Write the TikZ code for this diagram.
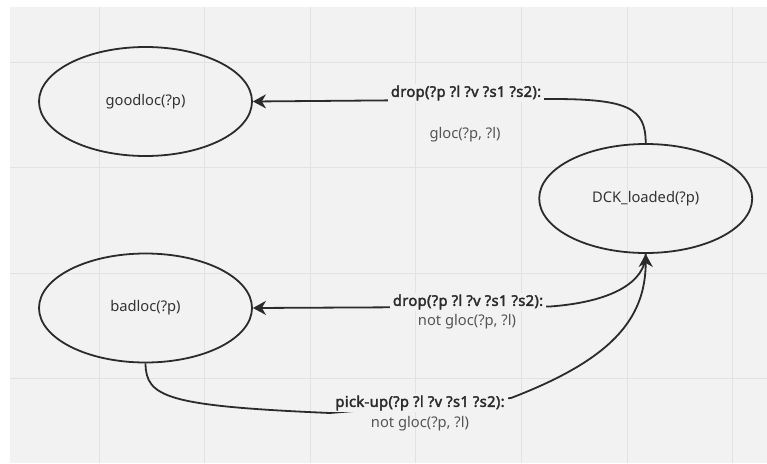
\documentclass[tikz,border=0pt]{standalone}
\usepackage{fontspec}
\setmainfont{Noto Sans}[AutoFakeBold=2.2]
\newfontfamily\labfont{Noto Sans}[AutoFakeBold=2.4,LetterSpace=2.4]
\usetikzlibrary{arrows.meta,shapes.geometric}
\definecolor{bg}{HTML}{F2F2F2}
\definecolor{gridc}{HTML}{E2E2E2}
\definecolor{ink}{HTML}{2B2B2B}
\definecolor{txt}{HTML}{333333}
\definecolor{subtxt}{HTML}{555555}
\begin{document}
\begin{tikzpicture}[x=1pt,y=-1pt,
  state/.style={ellipse,draw=ink,line width=1.8pt,minimum width=213pt,minimum height=109pt,inner sep=0pt,font=\fontsize{14.7}{17}\selectfont,text=txt},
  edge/.style={draw=ink,line width=1.8pt},
  tip/.style={-{Stealth[length=13pt,width=14pt,inset=4pt]}},
  actlab/.style={fill=bg,inner xsep=3pt,inner ysep=2pt,font=\labfont\fontsize{14.7}{17}\selectfont\bfseries,text=ink},
  condlab/.style={inner sep=1pt,font=\fontsize{14.7}{17}\selectfont,text=subtxt}]
\useasboundingbox (0,0) rectangle (767,463);
\fill[white] (0,0) rectangle (767,463);
\fill[bg] (10,7) rectangle (767,463);
\foreach \gx in {99,204.6,310.2,415.8,521.4,627,732.6}
  \draw[gridc,line width=1pt] (\gx,7) -- (\gx,463);
\foreach \gy in {62,167.6,273.2,378.8}
  \draw[gridc,line width=1pt] (10,\gy) -- (767,\gy);

\node[state] (gl) at (145.5,101.5) {goodloc(?p)};
\node[state] (dck) at (645.7,198.5) {DCK\_loaded(?p)};
\node[state] (bl) at (145.5,308) {badloc(?p)};

\coordinate (e1a) at (552,99);
\coordinate (e2a) at (550,306.5);
\coordinate (e3a) at (330,413);
\coordinate (e3b) at (511,398);

\draw[edge,tip] (dck.north) .. controls (645.7,108) and (628,99) .. (e1a) -- (gl.east);
\draw[edge,tip] (dck.south) .. controls (645.7,282) and (612,302) .. (e2a) -- (bl.east);
\draw[edge] (bl.south) .. controls (146,397) and (166,406) .. (e3a) -- (e3b);
\draw[edge,tip] (e3b) .. controls (610,360) and (645.7,320) .. (dck.south);

\node[actlab] (l1) at (466,93) {drop(?p ?l ?v ?s1 ?s2):};
\node[condlab] (c1) at (465,135) {gloc(?p, ?l)};
\node[actlab] (l2) at (468,302) {drop(?p ?l ?v ?s1 ?s2):};
\node[condlab] (c2) at (467,322) {not gloc(?p, ?l)};
\node[actlab] (l3) at (420,403) {pick-up(?p ?l ?v ?s1 ?s2):};
\node[condlab] (c3) at (420,424) {not gloc(?p, ?l)};
\end{tikzpicture}
\end{document}
